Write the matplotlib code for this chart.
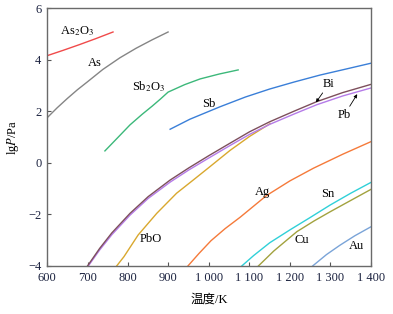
import matplotlib.pyplot as plt

plt.rcParams['font.family'] = ['Liberation Serif', 'Noto Sans CJK SC', 'DejaVu Sans']
plt.rcParams['mathtext.fontset'] = 'stix'

# vapour pressure curves, lg P (Pa) vs temperature (K)
as2o3_t = [600, 640, 680, 720, 763]
as2o3_p = [4.15, 4.36, 4.58, 4.81, 5.07]
as_t = [600, 625, 650, 675, 700, 738, 780, 820, 860, 899]
as_p = [1.74, 2.13, 2.49, 2.83, 3.14, 3.62, 4.07, 4.44, 4.77, 5.07]
sb2o3_t = [743, 775, 805, 835, 860, 880, 899, 940, 978, 1025, 1072]
sb2o3_p = [0.46, 0.98, 1.47, 1.88, 2.20, 2.47, 2.74, 3.03, 3.25, 3.44, 3.60]
sb_t = [904, 953, 1027, 1090, 1150, 1210, 1274, 1340, 1400]
sb_p = [1.30, 1.69, 2.17, 2.55, 2.86, 3.13, 3.40, 3.64, 3.86]
bi_t = [700, 730, 760, 805, 850, 904, 950, 1000, 1052, 1100, 1150, 1210, 1266, 1330, 1400]
bi_p = [-4.0, -3.32, -2.72, -1.96, -1.31, -0.67, -0.20, 0.28, 0.76, 1.20, 1.59, 2.00, 2.37, 2.72, 3.04]
pb_t = [702, 730, 760, 805, 850, 904, 950, 1000, 1052, 1100, 1150, 1210, 1266, 1330, 1400]
pb_p = [-4.0, -3.38, -2.79, -2.03, -1.38, -0.75, -0.28, 0.19, 0.67, 1.10, 1.49, 1.89, 2.25, 2.59, 2.90]
pbo_t = [772, 790, 825, 871, 920, 961, 1000, 1052, 1100, 1151]
pbo_p = [-4.0, -3.64, -2.80, -1.96, -1.18, -0.67, -0.18, 0.48, 1.02, 1.52]
ag_t = [948, 975, 1005, 1040, 1077, 1142, 1200, 1258, 1330, 1400]
ag_p = [-4.0, -3.52, -3.02, -2.55, -2.11, -1.27, -0.70, -0.21, 0.33, 0.82]
sn_t = [1081, 1110, 1150, 1200, 1250, 1299, 1350, 1400]
sn_p = [-4.0, -3.60, -3.10, -2.60, -2.12, -1.64, -1.18, -0.76]
cu_t = [1122, 1160, 1217, 1260, 1299, 1350, 1400]
cu_p = [-4.0, -3.42, -2.67, -2.25, -1.90, -1.46, -1.03]
au_t = [1256, 1290, 1323, 1360, 1400]
au_p = [-4.0, -3.56, -3.20, -2.83, -2.48]

xticks = [600, 700, 800, 900, 1000, 1100, 1200, 1300, 1400]
xtick_labels = ['600', '700', '800', '900', '1 000', '1 100', '1 200', '1 300', '1 400']
yticks = [-4, -2, 0, 2, 4, 6]
ytick_labels = ['\u22124', '\u22122', '0', '2', '4', '6']

fig = plt.figure(figsize=(3.93, 3.14), dpi=100)
ax = fig.add_axes([0.1196, 0.153, 0.8244, 0.8215])

ax.plot(as2o3_t, as2o3_p, color='#f04a4a', lw=1)
ax.plot(as_t, as_p, color='#858585', lw=1)
ax.plot(sb2o3_t, sb2o3_p, color='#3cb87a', lw=1)
ax.plot(sb_t, sb_p, color='#3a7fd8', lw=1)
ax.plot(pbo_t, pbo_p, color='#d9a82e', lw=1)
ax.plot(pb_t, pb_p, color='#b57be8', lw=1)
ax.plot(bi_t, bi_p, color='#7d4f5c', lw=1)
ax.plot(ag_t, ag_p, color='#f57a3a', lw=1)
ax.plot(sn_t, sn_p, color='#30d0d8', lw=1)
ax.plot(cu_t, cu_p, color='#a2a23e', lw=1)
ax.plot(au_t, au_p, color='#7aa4d8', lw=1)

fs = 9
ax.text(674, 5.11, r'As$_2$O$_3$', fontsize=fs, ha='center', va='center')
ax.text(719, 3.87, 'As', fontsize=fs, ha='center', va='center')
ax.text(850, 2.94, r'Sb$_2$O$_3$', fontsize=fs, ha='center', va='center')
ax.text(1000, 2.28, 'Sb', fontsize=fs, ha='center', va='center')
ax.text(856, -2.95, 'PbO', fontsize=fs, ha='center', va='center')
ax.text(1131, -1.12, 'Ag', fontsize=fs, ha='center', va='center')
ax.text(1293, -1.21, 'Sn', fontsize=fs, ha='center', va='center')
ax.text(1229, -2.99, 'Cu', fontsize=fs, ha='center', va='center')
ax.text(1363, -3.22, 'Au', fontsize=fs, ha='center', va='center')
arrow = dict(arrowstyle='-|>', color='black', lw=0.6, mutation_scale=5, shrinkA=0, shrinkB=0)
ax.annotate('Bi', xy=(1264, 2.34), xytext=(1296, 3.05), fontsize=fs,
            ha='center', va='center', arrowprops=arrow)
ax.annotate('Pb', xy=(1366, 2.66), xytext=(1334, 1.85), fontsize=fs,
            ha='center', va='center', arrowprops=arrow)

ax.set_xlim(600, 1400)
ax.set_ylim(-4, 6)
ax.set_xticks(xticks)
ax.set_xticklabels(xtick_labels)
ax.set_yticks(yticks)
ax.set_yticklabels(ytick_labels)
ax.tick_params(direction='in', length=3, width=0.8, labelsize=9,
               colors='#555555', labelcolor='#1c2340', pad=4)
for s in ax.spines.values():
    s.set_color('#6a6a6a')
    s.set_linewidth(1)

ax.set_xlabel('温度/K', fontsize=9, labelpad=7)
ax.set_ylabel(r'lg$\mathit{P}$/Pa', fontsize=9, labelpad=5)

fig.savefig('out.png', dpi=100)
